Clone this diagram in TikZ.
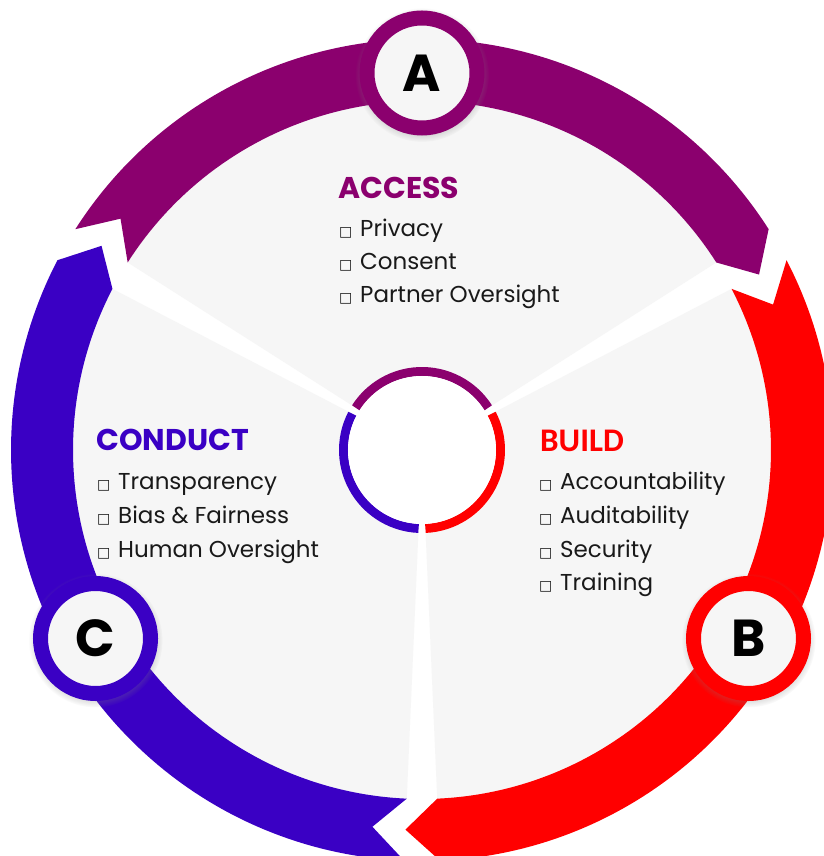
\documentclass[tikz,border=0pt]{standalone}
\usepackage{fontspec}
\setmainfont{Poppins}
\newfontfamily\symfont{DejaVu Sans}
\newfontfamily\buildfont{Carlito}
\usetikzlibrary{shadows, positioning}
\definecolor{accpurple}{RGB}{139, 0, 110}
\definecolor{bldred}{RGB}{255, 0, 0}
\definecolor{cndblue}{RGB}{58, 0, 196}
\definecolor{diskgrey}{RGB}{246, 246, 246}
\definecolor{itemgrey}{RGB}{25, 25, 25}

% little check box in front of every item
\newcommand{\sq}{\makebox[21pt][l]{\symfont\fontsize{14}{14}\selectfont □}}

\tikzset{
  badge/.style={circle, draw=#1, fill=diskgrey, line width=15pt, minimum size=110pt, inner sep=0pt,
    font=\fontsize{52}{52}\selectfont\bfseries, text=black,
    circular drop shadow={shadow scale=1.22, shadow xshift=0pt, shadow yshift=-1.5pt, opacity=0.35}},
  head/.style={anchor=base west, inner sep=0pt, font=\fontsize{30}{30}\selectfont\bfseries},
  item/.style={anchor=base west, inner sep=0pt, text=itemgrey, font=\fontsize{23}{23}\selectfont}
}

\begin{document}
\begin{tikzpicture}[x=1pt, y=1pt]
    % Background
    \fill[white] (-422, -406) rectangle (401, 450);
    \useasboundingbox (-422, -406) rectangle (401, 450);

    % grey sectors, the white spokes are the gaps between them
    \foreach \ang in {90, -30, 210}
      \fill[diskgrey] (0, 0) -- (\ang-57.5:350pt) arc[start angle=\ang-57.5, end angle=\ang+57.5, radius=350pt] -- cycle;

    % ring arrows, tail notch on one end, point on the other
    \foreach \ang/\col in {90/accpurple, -30/bldred, 210/cndblue}
      \fill[\col] (\ang+57.5:411pt) arc[start angle=\ang+57.5, end angle=\ang-57.5, radius=411pt]
        -- (\ang-62.5:380pt) -- (\ang-57.5:349pt)
        arc[start angle=\ang-57.5, end angle=\ang+57.5, radius=349pt]
        -- (\ang+52.5:380pt) -- cycle;

    % hub in the middle
    \foreach \ang/\col in {90/accpurple, -30/bldred, 210/cndblue}
      \draw[\col, line width=9pt] (\ang-57.5:78.5pt) arc[start angle=\ang-57.5, end angle=\ang+57.5, radius=78.5pt];
    \fill[white] (0, 0) circle[radius=74pt];

    % letters on the ring
    \node[badge=accpurple] (A) at (90:377pt) {A};
    \node[badge=bldred] (B) at (-30:377pt) {B};
    \node[badge=cndblue] (C) at (210:377pt) {C};

    % Access
    \node[head, text=accpurple] (access) at (-84, 251) {ACCESS};
    \node[item] (privacy) at (-83, 213) {\sq Privacy};
    \node[item] (consent) at (-83, 180) {\sq Consent};
    \node[item] (partner) at (-83, 147) {\sq Partner Oversight};

    % Build
    \node[head, text=bldred, font=\buildfont\fontsize{33}{33}\selectfont\bfseries] (build) at (118, -2) {BUILD};
    \node[item] (account) at (117, -40) {\sq Accountability};
    \node[item] (audit) at (117, -73) {\sq Auditability};
    \node[item] (security) at (117, -107) {\sq Security};
    \node[item] (training) at (117, -140) {\sq Training};

    % Conduct
    \node[head, text=cndblue] (conduct) at (-326, -1) {CONDUCT};
    \node[item] (transp) at (-325, -40) {\sq Transparency};
    \node[item] (bias) at (-325, -73) {\sq Bias \& Fairness};
    \node[item] (human) at (-325, -107) {\sq Human Oversight};

\end{tikzpicture}
\end{document}
